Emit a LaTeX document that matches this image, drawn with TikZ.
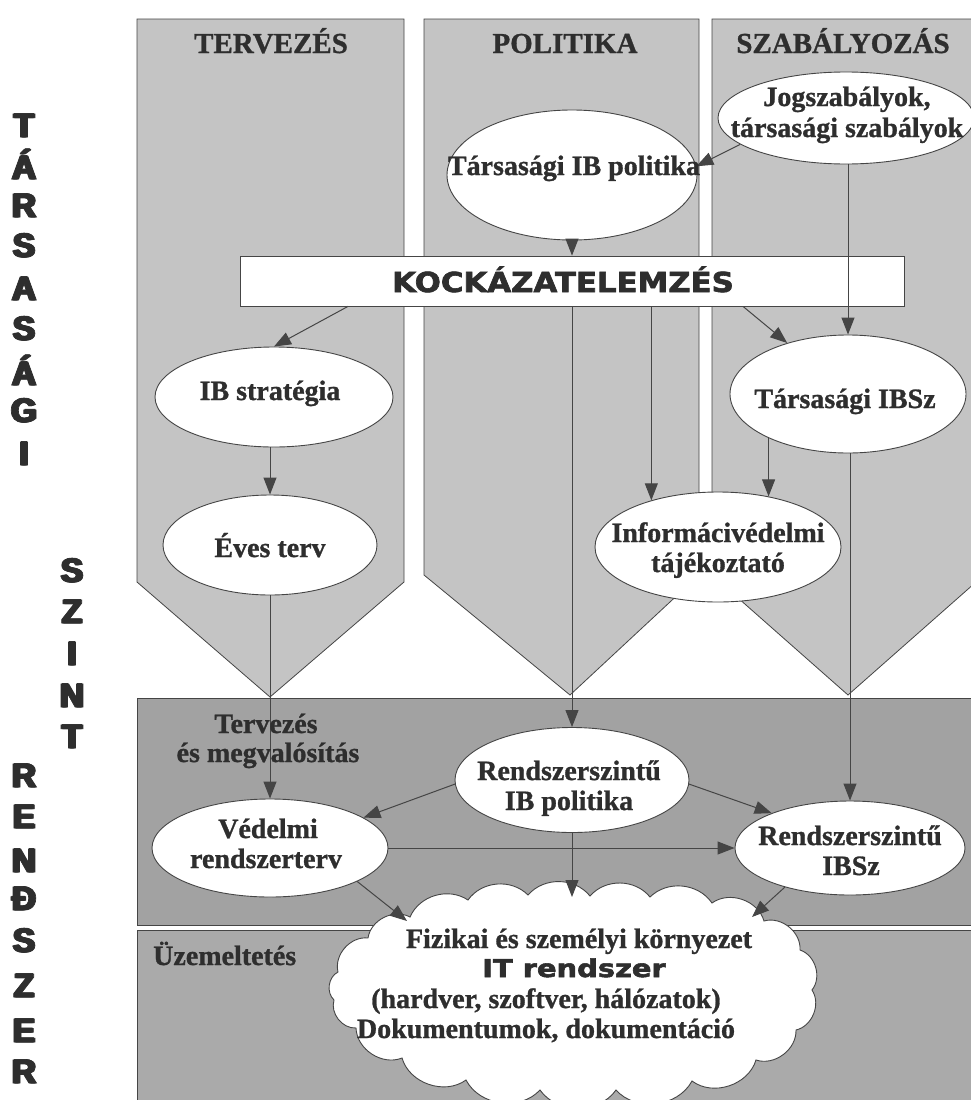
\documentclass[tikz,border=0pt]{standalone}
\usepackage{fontspec}
\usepackage{graphicx}
\setmainfont{Liberation Serif}[BoldFeatures={FakeBold=1}]
\newfontfamily\heavyfont{Liberation Sans}[BoldFeatures={FakeBold=2}]
\newfontfamily\widefont{DejaVu Sans}[BoldFeatures={FakeBold=2.2}]
\usetikzlibrary{arrows.meta,shapes.geometric}

% a heavier letter: the glyph laid over itself with small offsets
\newcommand\heavyglyph[1]{\rlap{\kern1.1pt#1}\rlap{\kern-1.1pt#1}\rlap{\raisebox{0.6pt}{#1}}#1}

\definecolor{ink}{HTML}{2E2E2E}
\definecolor{colfill}{HTML}{C4C4C4}
\definecolor{sysfill}{HTML}{A2A2A2}
\definecolor{opfill}{HTML}{AAAAAA}
\definecolor{edgecol}{HTML}{454545}

\tikzset{
  column/.style={fill=colfill, draw=edgecol, line width=0.8pt},
  sysband/.style={fill=sysfill, draw=edgecol, line width=0.8pt},
  opband/.style={fill=opfill, draw=edgecol, line width=0.8pt},
  oval/.style={ellipse, fill=white, draw=edgecol, line width=0.9pt, inner sep=0pt},
  kockbox/.style={rectangle, fill=white, draw=edgecol, line width=0.8pt, inner sep=0pt,
    minimum width=664pt, minimum height=50pt},
  puffy/.style={fill=white, draw=edgecol, line width=0.9pt},
  arr/.style={draw=edgecol, line width=1pt, -{Triangle[length=17pt,width=13pt]}},
  lbl/.style={anchor=base, inner sep=0pt, text=ink,
    font=\bfseries\fontsize{28}{30}\selectfont},
  title/.style={lbl, font=\bfseries\fontsize{29}{30}\selectfont},
  vlet/.style={anchor=base, inner sep=0pt, text=ink, text height=25pt, text depth=0pt,
    font=\heavyfont\bfseries\fontsize{33.5}{34}\selectfont},
  widelbl/.style={anchor=base, inner sep=0pt, text=ink}
}

\begin{document}
\begin{tikzpicture}[x=1pt, y=-1pt]
\clip (0,0) rectangle (971,1100);
\useasboundingbox (0,0) rectangle (971,1100);

% the three upper columns with pointed lower ends
\path[column] (137,19) -- (404,19) -- (404,582) -- (270,697) -- (137,582) -- cycle;
\path[column] (424,19) -- (699,19) -- (699,575) -- (570,695) -- (424,575) -- cycle;
\path[column] (712,19) -- (984,19) -- (984,575) -- (848,695) -- (712,575) -- cycle;

% system level and operation bands
\path[sysband] (137,698) rectangle (995,925);
\path[opband] (137,930) rectangle (995,1110);

% risk analysis bar
\node[kockbox] (kock) at (572,281) {};

% cloud of the IT system, puff by puff
\path[puffy] (338,972)
  to[bend left=55] (368,938) to[bend left=55] (410,917)
  to[bend left=50] (468,900) to[bend left=50] (528,895)
  to[bend left=50] (590,896) to[bend left=50] (650,897)
  to[bend left=50] (712,903) to[bend left=55] (764,921)
  to[bend left=55] (800,950) to[bend left=55] (812,990)
  to[bend left=55] (796,1030) to[bend left=55] (756,1060)
  to[bend left=55] (692,1081) to[bend left=55] (616,1090)
  to[bend left=55] (540,1090) to[bend left=55] (466,1080)
  to[bend left=55] (402,1058) to[bend left=55] (356,1028)
  to[bend left=55] (334,1000) to[bend left=55] cycle;
\coordinate (c1) at (407,921);
\coordinate (c2) at (572,897);
\coordinate (c3) at (752,917);

% ellipses
\node[oval, minimum width=250pt, minimum height=130pt] (tpol) at (572,175) {};
\node[oval, minimum width=256pt, minimum height=92pt] (jog) at (846,118) {};
\node[oval, minimum width=238pt, minimum height=100pt] (ibstrat) at (274,397) {};
\node[oval, minimum width=236pt, minimum height=118pt] (tibsz) at (848,394) {};
\node[oval, minimum width=214pt, minimum height=100pt] (eves) at (270,545) {};
\node[oval, minimum width=246pt, minimum height=110pt] (info) at (718,547) {};
\node[oval, minimum width=234pt, minimum height=105pt] (rpol) at (572,780) {};
\node[oval, minimum width=236pt, minimum height=98pt] (vedelmi) at (270,848) {};
\node[oval, minimum width=230pt, minimum height=94pt] (ribsz) at (850,848) {};

% connectors
\draw[arr] (jog.194) -- (tpol.4);
\draw[arr] (tpol.south) -- (tpol.south |- kock.north);
\draw[arr] (tibsz.north |- jog.south) -- (tibsz.north);
\draw[arr] ([xshift=171pt]kock.south) -- (tibsz.140);
\draw[arr] ([xshift=-224pt]kock.south) -- (ibstrat.north);
\draw[arr] (eves.north |- ibstrat.south) -- (eves.north);
\draw[arr] (eves.south) -- (vedelmi.north);
\draw[arr] (rpol.north |- kock.south) -- (rpol.north);
\draw[arr] (info.145 |- kock.south) -- (info.145);
\draw[arr] (info.45 |- tibsz.208) -- (info.45);
\draw[arr] (ribsz.north |- tibsz.south) -- (ribsz.north);
\draw[arr] (rpol.182) -- (vedelmi.18);
\draw[arr] (vedelmi.east) -- (ribsz.west);
\draw[arr] (vedelmi.-21) -- (c1);
\draw[arr] (rpol.south) -- (c2);
\draw[arr] (rpol.-2) -- (ribsz.156);
\draw[arr] (ribsz.211) -- (c3);

% column titles
\node[title] (h-terv) at (271,53) {TERVEZÉS};
\node[title] (h-pol) at (565,53) {POLITIKA};
\node[title] (h-szab) at (843,53) {SZABÁLYOZÁS};

% labels
\node[lbl] (l-jog1) at (847,106) {Jogszabályok,};
\node[lbl] (l-jog2) at (847,137) {társasági szabályok};
\node[lbl] (l-tpol) at (574,175) {Társasági IB politika};
\node[widelbl, font=\widefont\bfseries\fontsize{27.5}{28}\selectfont] (l-kock) at (563,292)
  {\scalebox{1.12}[1]{KOCKÁZATELEMZÉS}};
\node[lbl] (l-ibstrat) at (270,400) {IB stratégia};
\node[lbl] (l-tibsz) at (845,408) {Társasági IBSz};
\node[lbl] (l-eves) at (270,557) {Éves terv};
\node[lbl] (l-info1) at (718,542) {Informácivédelmi};
\node[lbl] (l-info2) at (718,572) {tájékoztató};
\node[lbl] (l-tm1) at (266,733) {Tervezés};
\node[lbl] (l-tm2) at (268,762) {és megvalósítás};
\node[lbl] (l-rpol1) at (569,780) {Rendszerszintű};
\node[lbl] (l-rpol2) at (569,810) {IB politika};
\node[lbl] (l-ved1) at (268,838) {Védelmi};
\node[lbl] (l-ved2) at (266,868) {rendszerterv};
\node[lbl] (l-ribsz1) at (850,845) {Rendszerszintű};
\node[lbl] (l-ribsz2) at (851,875) {IBSz};
\node[lbl, anchor=base west] (l-uzem) at (153,965) {Üzemeltetés};
\node[lbl] (l-cl1) at (579,948) {Fizikai és személyi környezet};
\node[widelbl, font=\widefont\bfseries\fontsize{24.5}{26}\selectfont] (l-cl2) at (574,977)
  {\scalebox{1.18}[1]{IT rendszer}};
\node[lbl] (l-cl3) at (546,1008) {(hardver, szoftver, hálózatok)};
\node[lbl] (l-cl4) at (546,1038) {Dokumentumok, dokumentáció};

% vertical level captions
\node[vlet] (v1) at (24,137) {\heavyglyph{T}};
\node[vlet] (v2) at (24,179) {\heavyglyph{Á}};
\node[vlet] (v3) at (24,217) {\heavyglyph{R}};
\node[vlet] (v4) at (24,257) {\heavyglyph{S}};
\node[vlet] (v5) at (24,300) {\heavyglyph{A}};
\node[vlet] (v6) at (24,340) {\heavyglyph{S}};
\node[vlet] (v7) at (24,385) {\heavyglyph{Á}};
\node[vlet] (v8) at (24,422) {\heavyglyph{G}};
\node[vlet] (v9) at (24,465) {\heavyglyph{I}};
\node[vlet] (w1) at (72,582) {\heavyglyph{S}};
\node[vlet] (w2) at (72,623) {\heavyglyph{Z}};
\node[vlet] (w3) at (72,665) {\heavyglyph{I}};
\node[vlet] (w4) at (72,707) {\heavyglyph{N}};
\node[vlet] (w5) at (72,748) {\heavyglyph{T}};
\node[vlet] (r1) at (24,787) {\heavyglyph{R}};
\node[vlet] (r2) at (24,828) {\heavyglyph{E}};
\node[vlet] (r3) at (24,872) {\heavyglyph{N}};
\node[vlet] (r4) at (24,910) {\heavyglyph{Đ}};
\node[vlet] (r5) at (24,952) {\heavyglyph{S}};
\node[vlet] (r6) at (24,997) {\heavyglyph{Z}};
\node[vlet] (r7) at (24,1042) {\heavyglyph{E}};
\node[vlet] (r8) at (24,1083) {\heavyglyph{R}};
\end{tikzpicture}
\end{document}
